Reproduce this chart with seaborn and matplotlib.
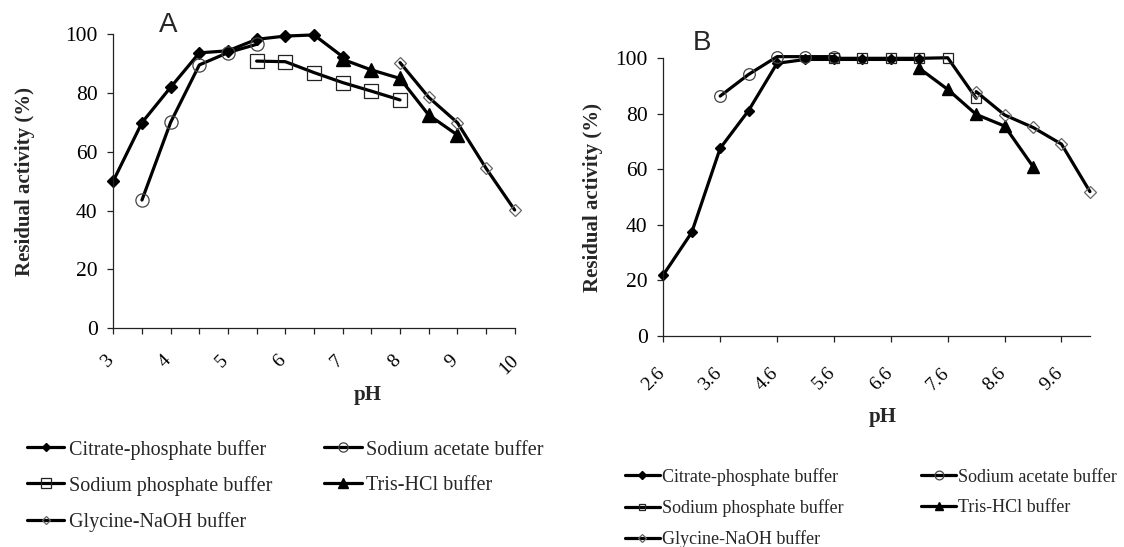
import numpy as np
import pandas as pd
import seaborn as sns
import matplotlib
matplotlib.use('Agg')
import matplotlib.pyplot as plt
from matplotlib.transforms import ScaledTranslation

# ---- panel A data (pH 3-10) ----
ph_citrate_a = [3.0, 3.5, 4.0, 4.5, 5.0, 5.5, 6.0, 6.5, 7.0]
act_citrate_a = [50.1, 69.9, 81.9, 93.6, 94.3, 98.2, 99.3, 99.7, 92.3]
ph_acetate_a = [3.5, 4.0, 4.5, 5.0, 5.5]
act_acetate_a = [43.6, 70.0, 89.5, 93.7, 96.5]
ph_phosphate_a = [5.5, 6.0, 6.5, 7.0, 7.5, 8.0]
act_phosphate_a = [90.8, 90.6, 86.9, 83.5, 80.6, 77.6]
ph_tris_a = [7.0, 7.5, 8.0, 8.5, 9.0]
act_tris_a = [91.4, 87.8, 84.9, 72.5, 65.7]
ph_glycine_a = [8.0, 8.5, 9.0, 9.5, 10.0]
act_glycine_a = [90.3, 78.5, 69.9, 54.4, 40.2]

# ---- panel B data (pH 2.6-10.1) ----
ph_citrate_b = [2.6, 3.1, 3.6, 4.1, 4.6, 5.1, 5.6, 6.1, 6.6, 7.1]
act_citrate_b = [22.0, 37.3, 67.6, 81.2, 98.2, 99.6, 99.6, 99.6, 99.6, 99.6]
ph_acetate_b = [3.6, 4.1, 4.6, 5.1, 5.6]
act_acetate_b = [86.4, 94.2, 100.6, 100.6, 100.6]
ph_phosphate_b = [5.6, 6.1, 6.6, 7.1, 7.6, 8.1]
act_phosphate_b = [100.0, 100.0, 100.0, 100.0, 100.2, 85.6]
ph_tris_b = [7.1, 7.6, 8.1, 8.6, 9.1]
act_tris_b = [96.4, 88.8, 79.8, 75.6, 61.0]
ph_glycine_b = [8.1, 8.6, 9.1, 9.6, 10.1]
act_glycine_b = [88.0, 79.6, 75.1, 69.1, 52.0]

xticks_a = [3, 4, 5, 6, 7, 8, 9, 10]
xminor_a = [3.5, 4.5, 5.5, 6.5, 7.5, 8.5, 9.5]
xticks_b = [2.6, 3.6, 4.6, 5.6, 6.6, 7.6, 8.6, 9.6]
xticklabels_b = ['2.6', '3.6', '4.6', '5.6', '6.6', '7.6', '8.6', '9.6']
yticks = [0, 20, 40, 60, 80, 100]

labels = ['Citrate-phosphate buffer', 'Sodium acetate buffer',
          'Sodium phosphate buffer', 'Tris-HCl buffer', 'Glycine-NaOH buffer']

sns.set_style('ticks')
plt.rcParams['font.family'] = ['Liberation Serif', 'DejaVu Serif']

# marker styles: (marker, face, edge, size A, size B, edge width)
styles = [
    ('D', 'black', 'black', 6.0, 5.2, 1.0),
    ('o', 'none', '#444444', 9.5, 8.4, 0.9),
    ('s', 'none', '#222222', 9.4, 6.5, 0.9),
    ('^', 'black', 'black', 9.5, 8.5, 1.0),
    ('D', 'none', '#666666', 6.0, 6.0, 0.9),
]


def draw_panel(ax, series, size_idx):
    for (x, y), lab, st in zip(series, labels, styles):
        df = pd.DataFrame({'pH': x, 'activity': y})
        sns.lineplot(data=df, x='pH', y='activity', ax=ax, color='black',
                     linewidth=2.3, marker=st[0], markerfacecolor=st[1],
                     markeredgecolor=st[2], markersize=st[size_idx],
                     markeredgewidth=st[5], label=lab, legend=False,
                     clip_on=False)
    ax.set_ylim(0, 100)
    ax.set_yticks(yticks)
    sns.despine(ax=ax)
    for sp in ['left', 'bottom']:
        ax.spines[sp].set_linewidth(0.9)
        ax.spines[sp].set_color('#222222')
    ax.tick_params(axis='both', which='both', direction='out', length=4.3,
                   width=0.9, color='#222222', labelcolor='black')
    ax.tick_params(axis='y', labelsize=15.5, pad=7)
    ax.set_ylabel('Residual activity (%)', fontsize=15, fontweight='bold')
    ax.set_xlabel('pH', fontsize=15, fontweight='bold')
    ax.yaxis.label.set_va('center')
    ax.yaxis.label.set_ha('center')
    ax.xaxis.label.set_va('center')


fig = plt.figure(figsize=(11.24, 5.47), dpi=100)
ax_a = fig.add_axes([0.1008, 0.3998, 0.3571, 0.5380])
ax_b = fig.add_axes([0.5901, 0.3857, 0.3796, 0.5077])

draw_panel(ax_a, [(ph_citrate_a, act_citrate_a), (ph_acetate_a, act_acetate_a),
                  (ph_phosphate_a, act_phosphate_a), (ph_tris_a, act_tris_a),
                  (ph_glycine_a, act_glycine_a)], 3)
draw_panel(ax_b, [(ph_citrate_b, act_citrate_b), (ph_acetate_b, act_acetate_b),
                  (ph_phosphate_b, act_phosphate_b), (ph_tris_b, act_tris_b),
                  (ph_glycine_b, act_glycine_b)], 4)

# panel A axis
ax_a.set_xlim(3, 10)
ax_a.set_xticks(xticks_a)
ax_a.set_xticklabels([str(t) for t in xticks_a])
ax_a.set_xticks(xminor_a, minor=True)
ax_a.tick_params(axis='x', labelsize=14, pad=13, rotation=45)
ax_a.yaxis.set_label_coords(-0.22, 0.5)
ax_a.xaxis.set_label_coords(0.6345, -0.2266)

# panel B axis
ax_b.set_xlim(2.6, 10.1)
ax_b.set_xticks(xticks_b)
ax_b.set_xticklabels(xticklabels_b)
ax_b.tick_params(axis='x', labelsize=14, pad=16, rotation=45)
ax_b.yaxis.set_label_coords(-0.165, 0.5)
ax_b.xaxis.set_label_coords(0.515, -0.2917)

for ax, dx in [(ax_a, -4), (ax_b, -7)]:
    off = ScaledTranslation(dx / 72, 0, fig.dpi_scale_trans)
    for lab in ax.get_xticklabels():
        lab.set_ha('center')
        lab.set_transform(lab.get_transform() + off)

# panel letters
fig.text(168 / 1124, 1 - 25 / 547, 'A', fontsize=20, family='Liberation Sans',
         ha='center', va='center')
fig.text(702 / 1124, 1 - 43 / 547, 'B', fontsize=20, family='Liberation Sans',
         ha='center', va='center')

# legends, row-wise order with two columns
order = [0, 2, 4, 1, 3]
h_a, l_a = ax_a.get_legend_handles_labels()
fig.legend([h_a[i] for i in order], [l_a[i] for i in order], loc='upper left',
           bbox_to_anchor=(0.0238, 0.1963), ncol=2, frameon=False,
           fontsize=14.5, borderpad=0, borderaxespad=0, handlelength=1.87,
           handletextpad=0.21, columnspacing=2.6, labelspacing=0.8,
           markerscale=0.7)
h_b, l_b = ax_b.get_legend_handles_labels()
fig.legend([h_b[i] for i in order], [l_b[i] for i in order], loc='upper left',
           bbox_to_anchor=(0.556, 0.1451), ncol=2, frameon=False,
           fontsize=13, borderpad=0, borderaxespad=0, handlelength=1.94,
           handletextpad=0.1, columnspacing=4.3, labelspacing=0.75,
           markerscale=0.75)

fig.savefig('out.png', dpi=100)
